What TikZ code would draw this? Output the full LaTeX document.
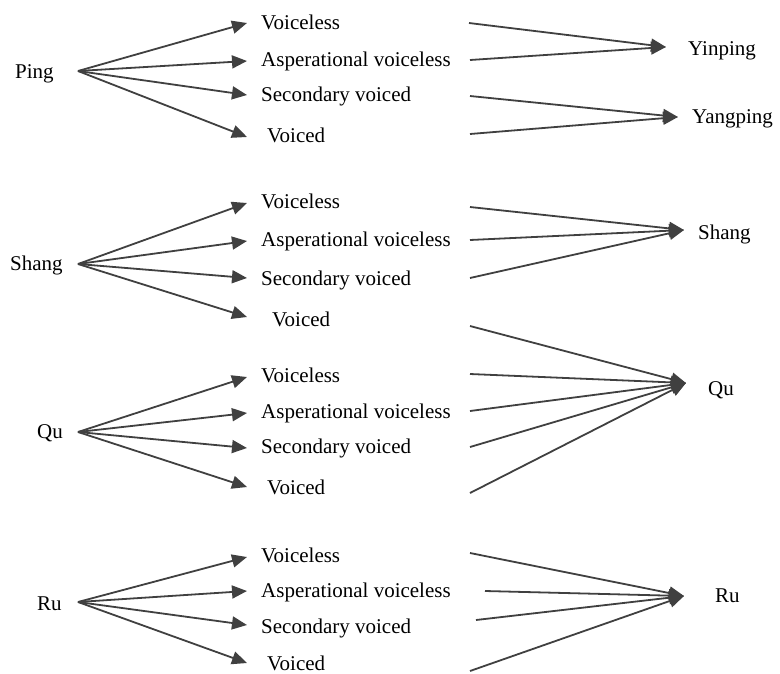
\documentclass[tikz,border=0pt]{standalone}
\usepackage{fontspec}
\setmainfont{Liberation Serif}
\usetikzlibrary{arrows.meta}
\definecolor{linegray}{HTML}{404040}
\tikzset{
  conn/.style={draw=linegray, line width=1.8pt, -{Triangle[length=15pt,width=13pt]}},
  lbl/.style={anchor=base west, inner sep=0pt, font=\fontsize{21}{24}\selectfont, text=black},
}
\begin{document}
\begin{tikzpicture}[x=1pt,y=-1pt]
\useasboundingbox (0,0) rectangle (780,673);

% ===== Ping group =====
\node[lbl] (ping) at (15,78) {Ping};
\coordinate (pingS) at (78,71);
\coordinate (pT1) at (247,23);
\coordinate (pT2) at (247,61);
\coordinate (pT3) at (247,95);
\coordinate (pT4) at (247,137);
\node[lbl] (pv1) at (261,29) {Voiceless};
\node[lbl] (pv2) at (261,66) {Asperational voiceless};
\node[lbl] (pv3) at (261,101) {Secondary voiced};
\node[lbl] (pv4) at (267,142) {Voiced};
\foreach \t in {pT1,pT2,pT3,pT4} \draw[conn] (pingS) -- (\t);
\coordinate (pR1) at (469,23);
\coordinate (pR2) at (470,60);
\coordinate (pR3) at (470,96);
\coordinate (pR4) at (470,134);
\coordinate (yinT) at (666,47);
\coordinate (yangT) at (678,117);
\node[lbl] (yin) at (688,55) {Yinping};
\node[lbl] (yang) at (692,123) {Yangping};
\draw[conn] (pR1) -- (yinT);
\draw[conn] (pR2) -- (yinT);
\draw[conn] (pR3) -- (yangT);
\draw[conn] (pR4) -- (yangT);

% ===== Shang group =====
\node[lbl] (shang) at (10,270) {Shang};
\coordinate (shS) at (78,264);
\coordinate (sT1) at (247,203);
\coordinate (sT2) at (247,241);
\coordinate (sT3) at (247,278);
\coordinate (sT4) at (247,317);
\node[lbl] (sv1) at (261,208) {Voiceless};
\node[lbl] (sv2) at (261,246) {Asperational voiceless};
\node[lbl] (sv3) at (261,285) {Secondary voiced};
\node[lbl] (sv4) at (272,326) {Voiced};
\foreach \t in {sT1,sT2,sT3,sT4} \draw[conn] (shS) -- (\t);
\coordinate (sR1) at (470,207);
\coordinate (sR2) at (470,240);
\coordinate (sR3) at (470,278);
\coordinate (sR4) at (470,326);
\coordinate (shangT) at (684,230);
\node[lbl] (shangR) at (698,239) {Shang};
\draw[conn] (sR1) -- (shangT);
\draw[conn] (sR2) -- (shangT);
\draw[conn] (sR3) -- (shangT);

% ===== Qu group =====
\node[lbl] (qu) at (37,438) {Qu};
\coordinate (quS) at (78,432);
\coordinate (qT1) at (247,377);
\coordinate (qT2) at (247,413);
\coordinate (qT3) at (247,448);
\coordinate (qT4) at (247,487);
\node[lbl] (qv1) at (261,382) {Voiceless};
\node[lbl] (qv2) at (261,418) {Asperational voiceless};
\node[lbl] (qv3) at (261,453) {Secondary voiced};
\node[lbl] (qv4) at (267,494) {Voiced};
\foreach \t in {qT1,qT2,qT3,qT4} \draw[conn] (quS) -- (\t);
\coordinate (qR1) at (470,374);
\coordinate (qR2) at (470,411);
\coordinate (qR3) at (470,447);
\coordinate (qR4) at (470,493);
\coordinate (quT) at (686,383);
\node[lbl] (quR) at (708,395) {Qu};
\draw[conn] (sR4) -- (quT);
\draw[conn] (qR1) -- (quT);
\draw[conn] (qR2) -- (quT);
\draw[conn] (qR3) -- (quT);
\draw[conn] (qR4) -- (quT);

% ===== Ru group =====
\node[lbl] (ru) at (37,610) {Ru};
\coordinate (ruS) at (78,602);
\coordinate (rT1) at (247,557);
\coordinate (rT2) at (247,591);
\coordinate (rT3) at (247,625);
\coordinate (rT4) at (247,663);
\node[lbl] (rv1) at (261,562) {Voiceless};
\node[lbl] (rv2) at (261,597) {Asperational voiceless};
\node[lbl] (rv3) at (261,633) {Secondary voiced};
\node[lbl] (rv4) at (267,670) {Voiced};
\foreach \t in {rT1,rT2,rT3,rT4} \draw[conn] (ruS) -- (\t);
\coordinate (rR1) at (470,553);
\coordinate (rR2) at (485,591);
\coordinate (rR3) at (476,620);
\coordinate (rR4) at (470,671);
\coordinate (ruT) at (684,596);
\node[lbl] (ruR) at (715,602) {Ru};
\draw[conn] (rR1) -- (ruT);
\draw[conn] (rR2) -- (ruT);
\draw[conn] (rR3) -- (ruT);
\draw[conn] (rR4) -- (ruT);
\end{tikzpicture}
\end{document}
